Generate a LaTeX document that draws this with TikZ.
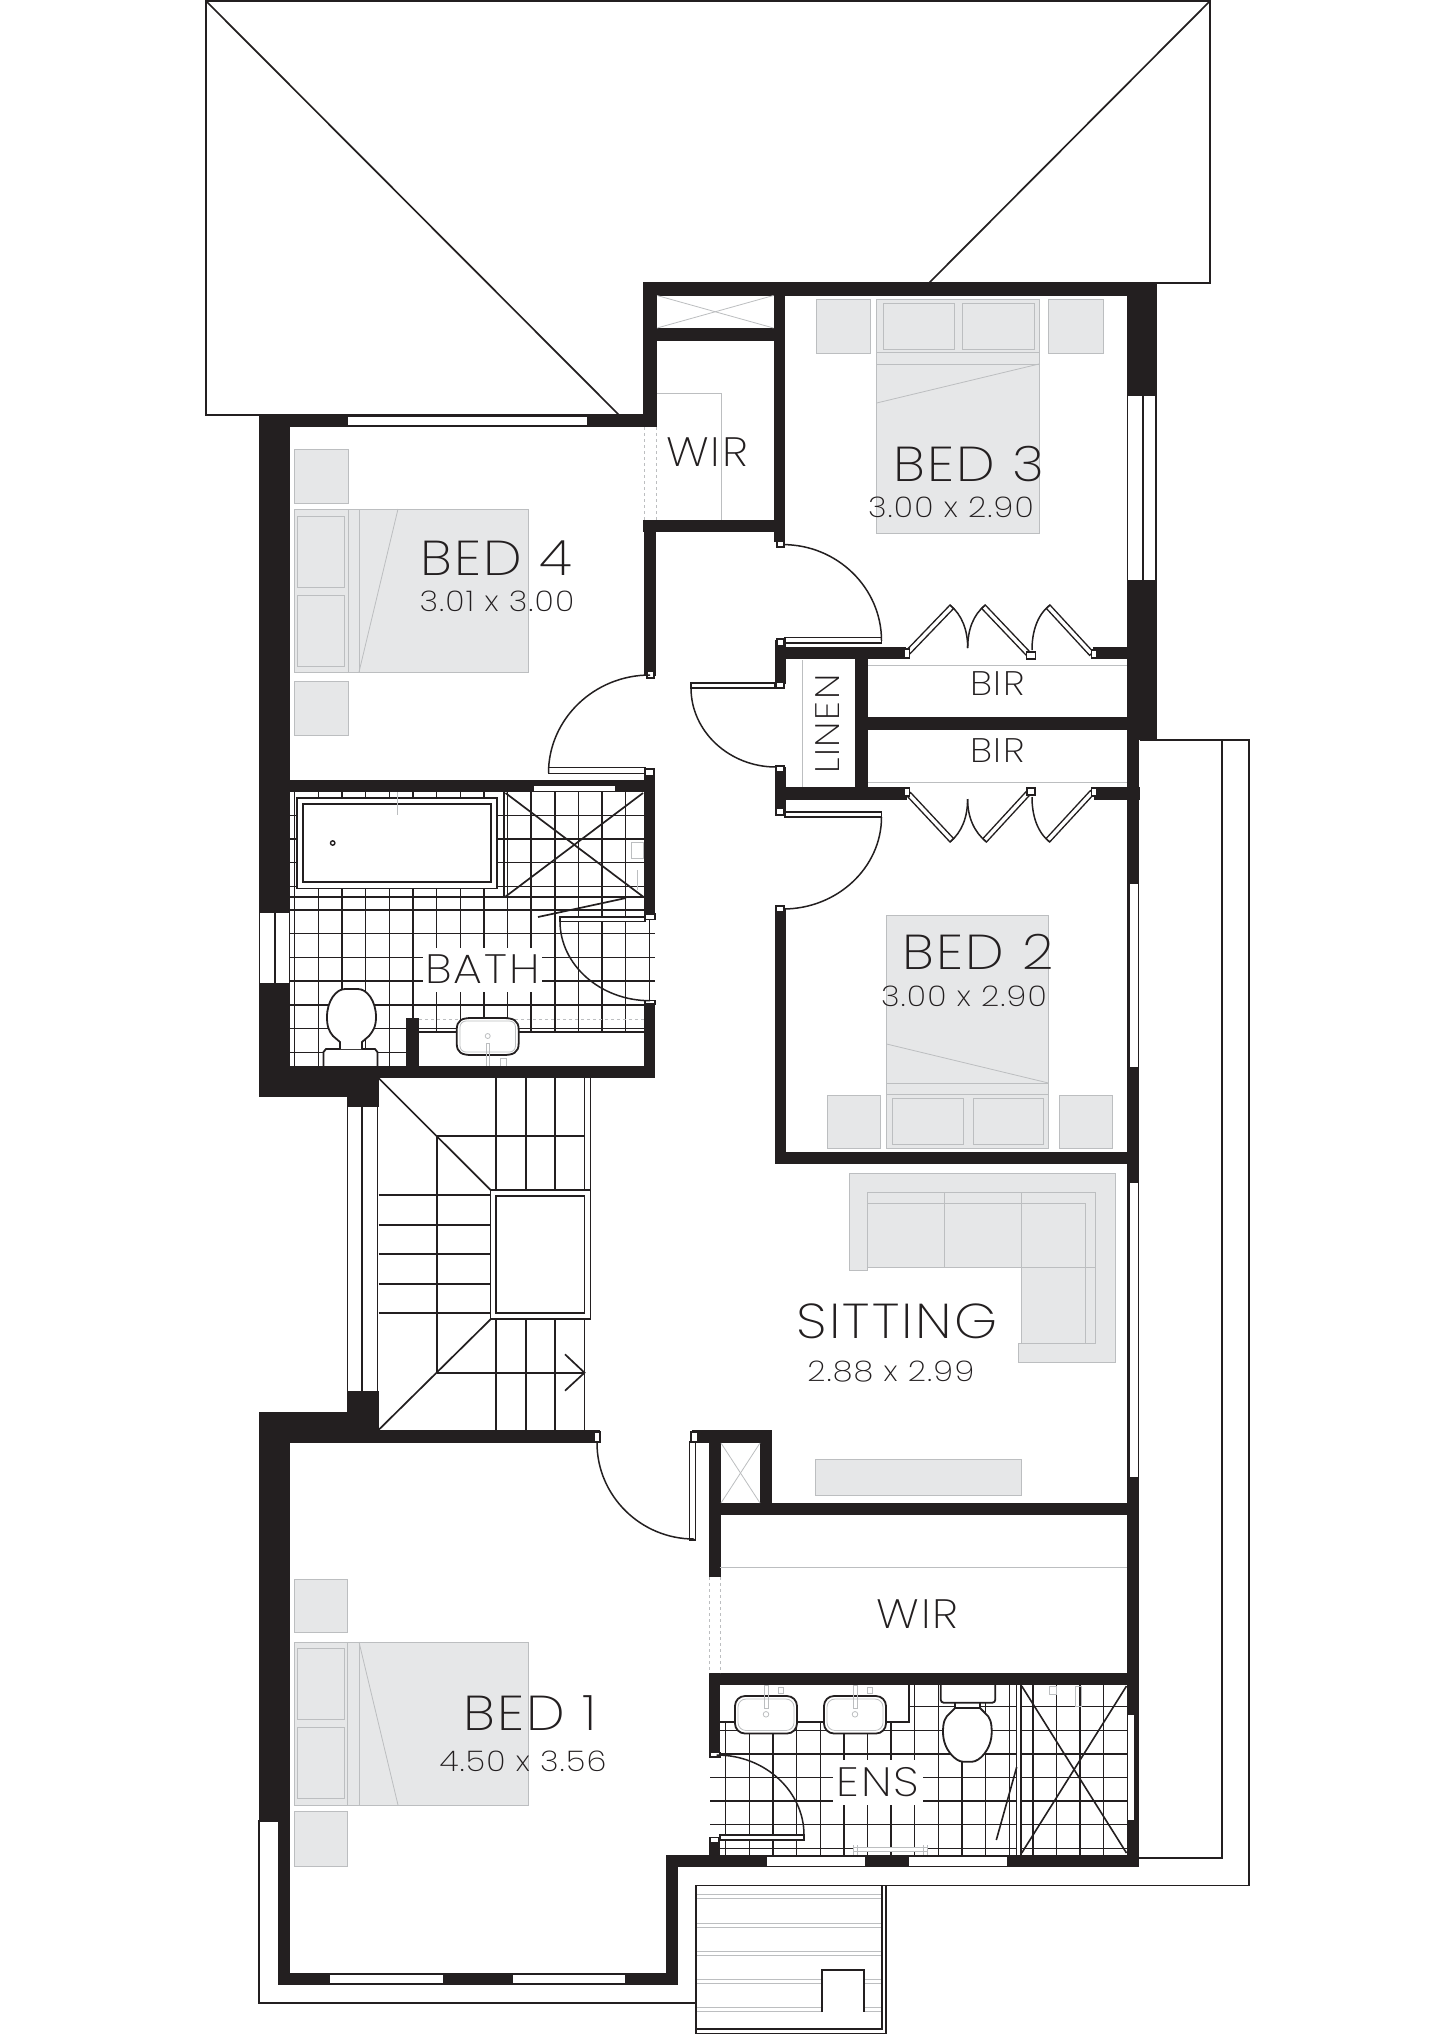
\documentclass[tikz,border=0pt]{standalone}
\usepackage{fontspec}
\setmainfont{Poppins}[UprightFont=* ExtraLight, FakeStretch=1.12, LetterSpace=4.5]
\usetikzlibrary{calc}
\definecolor{wallblack}{HTML}{231F20}
\definecolor{furnfill}{HTML}{E6E7E8}
\definecolor{furnline}{HTML}{BCBEC0}
\tikzset{
	wall/.style={fill=wallblack},
	opening/.style={fill=white},
	outline/.style={draw=wallblack, line width=1.7pt},
	tile/.style={draw=wallblack, line width=1.4pt},
	swing/.style={draw=wallblack, line width=1.5pt},
	leaf/.style={draw=wallblack, fill=white, line width=1.3pt},
	jamb/.style={draw=wallblack, fill=white, line width=1.2pt},
	furn/.style={draw=furnline, fill=furnfill, line width=0.8pt},
	furnthin/.style={draw=furnline, line width=0.8pt},
	fixture/.style={draw=wallblack, fill=white, line width=1.8pt},
	roomlabel/.style={text=wallblack, inner sep=0pt, font=\fontsize{49}{49}\selectfont},
	closetlabel/.style={text=wallblack, inner sep=0pt, font=\fontsize{41}{41}\selectfont},
	sizelabel/.style={text=wallblack, inner sep=0pt, font=\fontsize{28.5}{29}\selectfont},
	tinylabel/.style={text=wallblack, inner sep=0pt, font=\fontsize{34}{34}\selectfont}
}
\newcommand{\doorswing}[3]{\draw[swing] (#1) .. controls ($(#1)!.55!(#2)$) and ($(#3)!.55!(#2)$) .. (#3);}
\newcommand{\bifold}[6]{
	\draw[leaf] (#2) -- ($(#2)!5pt!#3:(#1)$) -- ($(#1)!5pt!-#3:(#2)$) -- (#1) -- cycle;
	\draw[swing] (#2) .. controls (#5) and (#6) .. (#4);
}
\begin{document}
\begin{tikzpicture}[x=1pt,y=-1pt]
	\useasboundingbox (0,0) rectangle (1454,2035);
	\fill[white] (0,0) rectangle (1454,2035);

	% roof
	\draw[outline] (929,283) -- (1210,283) -- (1210,1) -- (206,1) -- (206,415) -- (643,415);
	\draw[outline] (206,1) -- (619,415);
	\draw[outline] (1210,1) -- (929,283);

	% balcony and deck
	\draw[outline] (1140,740) -- (1249,740) -- (1249,1885.5) -- (886,1885.5);
	\draw[outline] (1222,740) -- (1222,1858) -- (1139,1858);
	\draw[outline] (259,1820) -- (259,2003) -- (696,2003);
	\foreach \y in {1894.3,1923.3,1951.3,1979.3,2007.3}{
		\draw[furnthin, line width=1.1pt] (696,\y) -- (881.7,\y);
		\draw[furnthin, line width=1.1pt] (696,\y+4) -- (881.7,\y+4);
	}
	\draw[outline] (696,1885.5) rectangle (886,2033.5);
	\draw[outline] (881.7,1885.5) -- (881.7,2029) -- (696,2029);
	\fill[white] (822.3,1970) rectangle (864.3,2012);
	\draw[outline] (822.3,2012) -- (822.3,1970) -- (864.3,1970) -- (864.3,2012);

	% bath tiles
	\begin{scope}
		\clip (290,792) rectangle (655,1066);
		\foreach \i in {0,...,15}
			\draw[tile] ({294.65+23.65*\i},792) -- ({294.65+23.65*\i},1066);
		\foreach \i in {0,...,10}
			\draw[tile] (290,{815.2+23.7*\i}) -- (655,{815.2+23.7*\i});
	\end{scope}
	\draw[tile, line width=1.7pt] (290,897) -- (644,897);
	\draw[tile, line width=1.7pt] (504,792) -- (504,897);
	\draw[tile, line width=1.7pt] (505.5,793) -- (643,896.6);
	\draw[tile, line width=1.7pt] (643,793) -- (505.5,896.6);
	\draw[tile, line width=1.7pt] (538,917) -- (626,898);
	\fill[white] (419,1032) rectangle (644,1066);
	\draw[tile, line width=1.7pt] (419,1032) -- (644,1032);
	\draw[furnline, dashed, line width=0.8pt] (419,1019) -- (644,1019);
	\draw[fixture] (297,798) rectangle (497,888.5);
	\draw[fixture] (303,804) rectangle (491,882);
	\draw[tile] (332.7,843) circle (2.2);
	\draw[furnthin] (397.5,792) -- (397.5,815);
	\draw[furnthin] (631,842) rectangle (643,858);
	\draw[furnthin] (637,870) -- (637,890);

	% bath fixtures
	\draw[fixture] (456.7,1030) .. controls (456.7,1020) and (462,1018) .. (472,1018) -- (503,1018) .. controls (513,1018) and (518.7,1020) .. (518.7,1030) -- (518.7,1043) .. controls (518.7,1053) and (513,1055) .. (503,1055) -- (472,1055) .. controls (462,1055) and (456.7,1053) .. (456.7,1043) -- cycle;
	\draw[furnthin, rounded corners=6pt] (460,1021) rectangle (515.5,1052);
	\draw[furnthin] (487.7,1036) circle (2.5);
	\draw[furnthin] (486,1043) rectangle (489.5,1066);
	\draw[furnthin] (500,1058) rectangle (506,1066);
	\draw[fixture] (323.5,1066) -- (323.5,1052) -- (326,1049) -- (375,1049) -- (377.4,1052) -- (377.4,1066);
	\draw[fixture] (340,1049) -- (340,1042) -- (333,1036) .. controls (329,1031) and (327,1027) .. (327,1017) .. controls (327,1001) and (336,989) .. (345,989) -- (358,989) .. controls (367,989) and (376,1001) .. (376,1017) .. controls (376,1027) and (373,1031) .. (369,1036) -- (362,1042) -- (362,1049);

	% ensuite tiles
	\begin{scope}
		\clip (710,1685) rectangle (1127,1855);
		\foreach \i in {0,...,17}
			\draw[tile] ({725.7+23.63*\i},1685) -- ({725.7+23.63*\i},1855);
		\foreach \i in {0,...,6}
			\draw[tile] (710,{1706.7+23.6*\i}) -- (1127,{1706.7+23.6*\i});
	\end{scope}
	\fill[white] (719,1685) rectangle (909,1722);
	\draw[tile, line width=1.7pt] (719,1722) -- (909,1722) -- (909,1685);
	\fill[white] (1017,1685) rectangle (1021.7,1855);
	\draw[tile] (1016.7,1685) -- (1016.7,1855);
	\draw[tile, line width=1.8pt] (1021,1685) -- (1021,1855);
	\draw[tile, line width=1.6pt] (1021.7,1686) -- (1126.5,1853);
	\draw[tile, line width=1.6pt] (1126.5,1686) -- (1021.7,1853);
	\draw[tile, line width=1.6pt] (996.3,1840) -- (1016.7,1767);
	\draw[furnthin, fill=white] (853,1847.7) rectangle (927,1851.7);
	\draw[furnthin] (853,1845) -- (853,1855);
	\draw[furnthin] (857,1845) -- (857,1855);
	\draw[furnthin] (923,1845) -- (923,1855);
	\draw[furnthin] (927,1845) -- (927,1855);
	\foreach \x in {735,824}{
		\draw[fixture, rounded corners=10pt] (\x,1696) rectangle (\x+62,1733.5);
		\draw[furnthin, rounded corners=8pt] (\x+3,1699) rectangle (\x+59,1730.5);
		\draw[furnthin] (\x+31,1714.3) circle (2.8);
		\draw[furnthin] (\x+29,1685) rectangle (\x+33,1708);
		\draw[furnthin] (\x+43,1687) rectangle (\x+48,1693);
	}
	\draw[fixture] (955,1702.7) -- (955,1708) -- (980,1708) -- (980,1702.7);
	\draw[fixture, rounded corners=3pt] (940.7,1680) rectangle (995.3,1702.7);
	\draw[fixture] (955,1708) -- (950,1713) .. controls (945,1717) and (943,1722) .. (943,1732) .. controls (943,1750) and (956,1761.7) .. (963,1761.7) -- (972,1761.7) .. controls (979,1761.7) and (991.7,1750) .. (991.7,1732) .. controls (991.7,1722) and (990,1717) .. (985,1713) -- (980,1708) -- cycle;
	\draw[furnthin] (1049,1686) rectangle (1056,1694);
	\draw[furnthin] (1075,1686) rectangle (1081,1706);

	% walls
	\fill[wall] (643,282) rectangle (1157,295.5);
	\fill[wall] (643,282) rectangle (657,427);
	\fill[wall] (258.5,414) rectangle (657,427);
	\fill[wall] (258.5,414) rectangle (290,1097);
	\fill[wall] (657,328) rectangle (785,341);
	\fill[wall] (773.5,282) rectangle (785,542);
	\fill[wall] (643,520) rectangle (785,532);
	\fill[wall] (644,520) rectangle (656,676);
	\fill[wall] (1126.6,282) rectangle (1157,396);
	\fill[wall] (1126.6,580) rectangle (1157,740);
	\fill[wall] (775,647) rectangle (906,659);
	\fill[wall] (1093,647) rectangle (1157,659);
	\fill[wall] (775,640) rectangle (785.6,684);
	\fill[wall] (775,767) rectangle (785.6,815);
	\fill[wall] (855,647) rectangle (868,800);
	\fill[wall] (855,717) rectangle (1127,729.6);
	\fill[wall] (775,787) rectangle (907,800);
	\fill[wall] (1094,787) rectangle (1140,800);
	\fill[wall] (290,780) rectangle (655,792);
	\fill[wall] (644,775) rectangle (655,915);
	\fill[wall] (644,1002) rectangle (655,1078);
	\fill[wall] (258.5,1066) rectangle (655,1078);
	\fill[wall] (258.5,1078) rectangle (378.5,1096.7);
	\fill[wall] (347,1096.7) rectangle (378.5,1107);
	\fill[wall] (406,1018) rectangle (419,1066);
	\fill[wall] (347,1391) rectangle (378.5,1430);
	\fill[wall] (258.5,1411.7) rectangle (378.5,1443);
	\fill[wall] (378.5,1430) rectangle (600,1443);
	\fill[wall] (259,1443) rectangle (290,1820.7);
	\fill[wall] (278,1820.7) rectangle (290,1984.5);
	\fill[wall] (278,1973) rectangle (678,1984.5);
	\fill[wall] (666.4,1855) rectangle (678,1984.5);
	\fill[wall] (666.4,1855) rectangle (1138.6,1867);
	\fill[wall] (1127,740) rectangle (1139,1867);
	\fill[wall] (775,909) rectangle (785.6,1164);
	\fill[wall] (775,1151.6) rectangle (1139,1164);
	\fill[wall] (692.4,1430) rectangle (772.4,1443);
	\fill[wall] (709,1443) rectangle (721,1577);
	\fill[wall] (760,1443) rectangle (772.4,1503);
	\fill[wall] (709,1503) rectangle (1139,1515);
	\fill[wall] (708.7,1673) rectangle (1139,1685);
	\fill[wall] (708.7,1685) rectangle (720,1753);
	\fill[wall] (708.7,1842) rectangle (720,1855);

	% windows
	\fill[opening] (348,417) rectangle (587,425);
	\fill[opening] (1128.5,396) rectangle (1141.6,580);
	\fill[opening] (1144.5,396) rectangle (1155.5,580);
	\draw[outline] (1127.6,396) -- (1127.6,580);
	\draw[outline, line width=2.6pt] (1143,396) -- (1143,580);
	\draw[outline] (1156.2,396) -- (1156.2,580);
	\fill[opening] (260,912.7) rectangle (273.5,982.7);
	\fill[opening] (275.5,912.7) rectangle (288.6,982.7);
	\fill[opening] (534,786) rectangle (614.5,790.5);
	\fill[opening] (1129.5,884) rectangle (1137.5,1067);
	\fill[opening] (1129.5,1183.3) rectangle (1137.5,1476.7);
	\fill[opening] (1128.4,1715) rectangle (1134,1820);
	\fill[opening] (330,1975) rectangle (442.6,1983);
	\fill[opening] (513,1975) rectangle (625.4,1983);
	\fill[opening] (766.7,1857) rectangle (865,1865.5);
	\fill[opening] (909,1857) rectangle (1007,1865.5);
	\draw[outline] (347.5,1107) -- (347.5,1391);
	\draw[outline] (362,1107) -- (362,1391);
	\draw[outline] (377.5,1107) -- (377.5,1391);
	\draw[outline] (259.3,1820.7) -- (278,1820.7);

	% thin lines in cupboards
	\draw[furnthin] (657,393) -- (721.5,393) -- (721.5,520);
	\draw[furnline, dashed, line width=0.8pt] (644.5,427) -- (644.5,520);
	\draw[furnline, dashed, line width=0.8pt] (656,427) -- (656,520);
	\draw[furnthin] (802,660) -- (802,787);
	\draw[furnthin] (868,665.4) -- (1126.6,665.4);
	\draw[furnthin] (868,782.6) -- (1126.6,782.6);
	\draw[furnthin] (719.7,1567) -- (1127,1567);
	\draw[furnline, dashed, line width=0.8pt] (709,1577) -- (709,1673);
	\draw[furnline, dashed, line width=0.8pt] (720,1577) -- (720,1673);
	\draw[furnthin] (657,295.5) -- (773.5,328);
	\draw[furnthin] (657,328) -- (773.5,295.5);
	\draw[furnthin] (721,1443) -- (760,1503);
	\draw[furnthin] (760,1443) -- (721,1503);

	% stairs
	\draw[outline] (378.5,1078) -- (490.6,1190);
	\draw[outline] (490.6,1319.3) -- (378.5,1430);
	\foreach \x in {496,525.8,555,584.5}{
		\draw[outline] (\x,1078) -- (\x,1190);
		\draw[outline] (\x,1320) -- (\x,1430);
	}
	\draw[outline] (590.6,1078) -- (590.6,1190);
	\draw[outline] (436.7,1136) -- (436.7,1372.7);
	\draw[outline] (436.7,1136) -- (584.5,1136);
	\foreach \y in {1195.3,1224.7,1254,1283.7,1313.3}
		\draw[outline] (378.5,\y) -- (490.6,\y);
	\draw[outline, fill=white] (490.6,1190) rectangle (590.6,1319.3);
	\draw[outline] (496,1195.7) rectangle (584.5,1313.3);
	\draw[outline] (436.7,1372.7) -- (584.5,1372.7);
	\draw[outline] (565,1354.3) -- (584.5,1372.7) -- (565,1390.7);

	% doors
	\draw[leaf] (548.5,767.5) rectangle (645,773.5);
	\draw[jamb] (645,769) rectangle (654,775.6);
	\draw[jamb] (647,671) rectangle (654,678);
	\doorswing{548.5,773}{548.5,675}{650,675}

	\draw[leaf] (785,637.5) rectangle (881.5,643);
	\draw[jamb] (777,639) rectangle (784,646);
	\draw[jamb] (777,541) rectangle (784,547);
	\doorswing{783,544.6}{881.5,544.6}{881.5,640.6}

	\draw[leaf] (691,683) rectangle (775,688);
	\draw[jamb] (776,682) rectangle (784,688);
	\draw[jamb] (776,766) rectangle (784,772);
	\doorswing{691,688}{691,767}{776,767}

	\draw[leaf] (785,812) rectangle (881.5,817);
	\draw[jamb] (776,808) rectangle (784,815);
	\draw[jamb] (776,906) rectangle (784,912);
	\doorswing{881.5,817}{881.5,909}{783,909}

	\draw[leaf] (560,917) rectangle (645,921.3);
	\draw[jamb] (645,914) rectangle (655,919.3);
	\draw[jamb] (645,1000.7) rectangle (655,1004);
	\doorswing{560,921.3}{560,1000.7}{650,1000.7}

	\draw[leaf] (689.4,1442) rectangle (695.5,1540);
	\draw[jamb] (594,1432) rectangle (600,1442);
	\draw[jamb] (691,1432) rectangle (698,1442);
	\doorswing{597,1443}{597,1539}{694,1539}

	\draw[leaf] (720,1835) rectangle (804,1840);
	\draw[jamb] (710,1752.7) rectangle (720,1757);
	\draw[jamb] (710,1837.7) rectangle (719,1842.3);
	\doorswing{804,1835}{804,1755}{716.7,1755}

	% bifold doors
	\bifold{906.7,650}{950,605}{90}{967.7,648}{962,615}{967.7,630}
	\bifold{1030,652}{985.3,605}{-90}{967.7,648}{973,615}{967.7,630}
	\bifold{1093.3,652}{1050,605}{-90}{1032,650}{1037,615}{1032,632}
	\draw[jamb] (904,649) rectangle (909.3,658);
	\draw[jamb] (1026.7,652) rectangle (1035.3,659);
	\draw[jamb] (1091.7,650) rectangle (1096.7,658);
	\bifold{907,796}{950,842}{-90}{967.6,799}{962,832}{967.6,817}
	\bifold{1030.7,794}{986.5,842}{90}{967.6,799}{974,832}{967.6,817}
	\bifold{1094,794}{1049.7,842}{90}{1032,797}{1037,832}{1032,815}
	\draw[jamb] (904,788) rectangle (909.3,796);
	\draw[jamb] (1027,788) rectangle (1035,795);
	\draw[jamb] (1091.7,788) rectangle (1096.7,796);

	% bed 3 furniture
	\draw[furn] (816,299) rectangle (870,353);
	\draw[furn] (1048.5,299) rectangle (1103,353);
	\draw[furn] (876.6,299) rectangle (1039,533);
	\draw[furnthin] (883.6,303.6) rectangle (954,349.6);
	\draw[furnthin] (962,303.6) rectangle (1034,349.6);
	\draw[furnthin] (876.6,352.7) -- (1039,352.7);
	\draw[furnthin] (876.6,364) -- (1039,364);
	\draw[furnthin] (876.6,403) -- (1039,364);

	% bed 4 furniture
	\draw[furn] (294,449.5) rectangle (348,503);
	\draw[furn] (294,681) rectangle (348,735);
	\draw[furn] (294,509) rectangle (528.6,672);
	\draw[furnthin] (297,516) rectangle (344,587.5);
	\draw[furnthin] (297,595) rectangle (344,666.5);
	\draw[furnthin] (348,509) -- (348,672);
	\draw[furnthin] (359,509) -- (359,672);
	\draw[furnthin] (359,672) -- (398,509);

	% bed 2 furniture
	\draw[furn] (827,1095) rectangle (880,1148);
	\draw[furn] (1059,1095) rectangle (1112,1148);
	\draw[furn] (886.6,915) rectangle (1048.5,1148);
	\draw[furnthin] (892,1098) rectangle (963.5,1144);
	\draw[furnthin] (973,1098) rectangle (1043,1144);
	\draw[furnthin] (886.6,1083) -- (1048.5,1083);
	\draw[furnthin] (886.6,1094.4) -- (1048.5,1094.4);
	\draw[furnthin] (886.6,1044) -- (1048.5,1083);

	% bed 1 furniture
	\draw[furn] (294,1579.5) rectangle (347.6,1632.4);
	\draw[furn] (294,1811) rectangle (347.6,1866);
	\draw[furn] (294,1642) rectangle (528,1805);
	\draw[furnthin] (297.5,1648) rectangle (344,1719);
	\draw[furnthin] (297.5,1727) rectangle (344,1798.5);
	\draw[furnthin] (347.6,1642) -- (347.6,1805);
	\draw[furnthin] (359,1642) -- (359,1805);
	\draw[furnthin] (359,1642) -- (398,1805);

	% sitting furniture
	\draw[furn] (849,1173.3) -- (1115,1173.3) -- (1115,1362.7) -- (1018,1362.7) -- (1018,1343.3) -- (1021,1343.3) -- (1021,1267.3) -- (867,1267.3) -- (867,1270.7) -- (849,1270.7) -- cycle;
	\draw[furnthin] (867,1267.3) -- (867,1192.7) -- (1095.5,1192.7) -- (1095.5,1343.3) -- (1018,1343.3);
	\draw[furnthin] (867,1203.7) -- (1085,1203.7) -- (1085,1343.3);
	\draw[furnthin] (944,1192.7) -- (944,1267.3);
	\draw[furnthin] (1021,1192.7) -- (1021,1267.3);
	\draw[furnthin] (1021,1267.3) -- (1095.5,1267.3);
	\draw[furn] (815,1459.3) rectangle (1021,1495.3);

	% labels
	\node[roomlabel](bedThree) at (969,464){BED 3};
	\node[sizelabel](bedThreeSize) at (951,507.6){3.00 x 2.90};
	\node[roomlabel](bedFour) at (496.5,558){BED 4};
	\node[sizelabel](bedFourSize) at (497,601){3.01 x 3.00};
	\node[closetlabel](wirUpper) at (707,452){WIR};
	\node[tinylabel](birUpper) at (997.6,684){BIR};
	\node[tinylabel](birLower) at (997.6,750.7){BIR};
	\node[tinylabel, rotate=90](linen) at (827.5,724){LINEN};
	\node[closetlabel, fill=white, minimum width=119pt, minimum height=44pt](bath) at (482.5,969.5){BATH};
	\node[roomlabel](bedTwo) at (978,951.6){BED 2};
	\node[sizelabel](bedTwoSize) at (964,996){3.00 x 2.90};
	\node[roomlabel](sitting) at (897,1321.7){SITTING};
	\node[sizelabel](sittingSize) at (890.8,1371.7){2.88 x 2.99};
	\node[closetlabel](wirLower) at (917.5,1614.3){WIR};
	\node[roomlabel](bedOne) at (530.4,1713){BED 1};
	\node[sizelabel](bedOneSize) at (523,1761.7){4.50 x 3.56};
	\node[closetlabel, fill=white, minimum width=90pt, minimum height=45pt](ens) at (878,1782.5){ENS};
\end{tikzpicture}
\end{document}
